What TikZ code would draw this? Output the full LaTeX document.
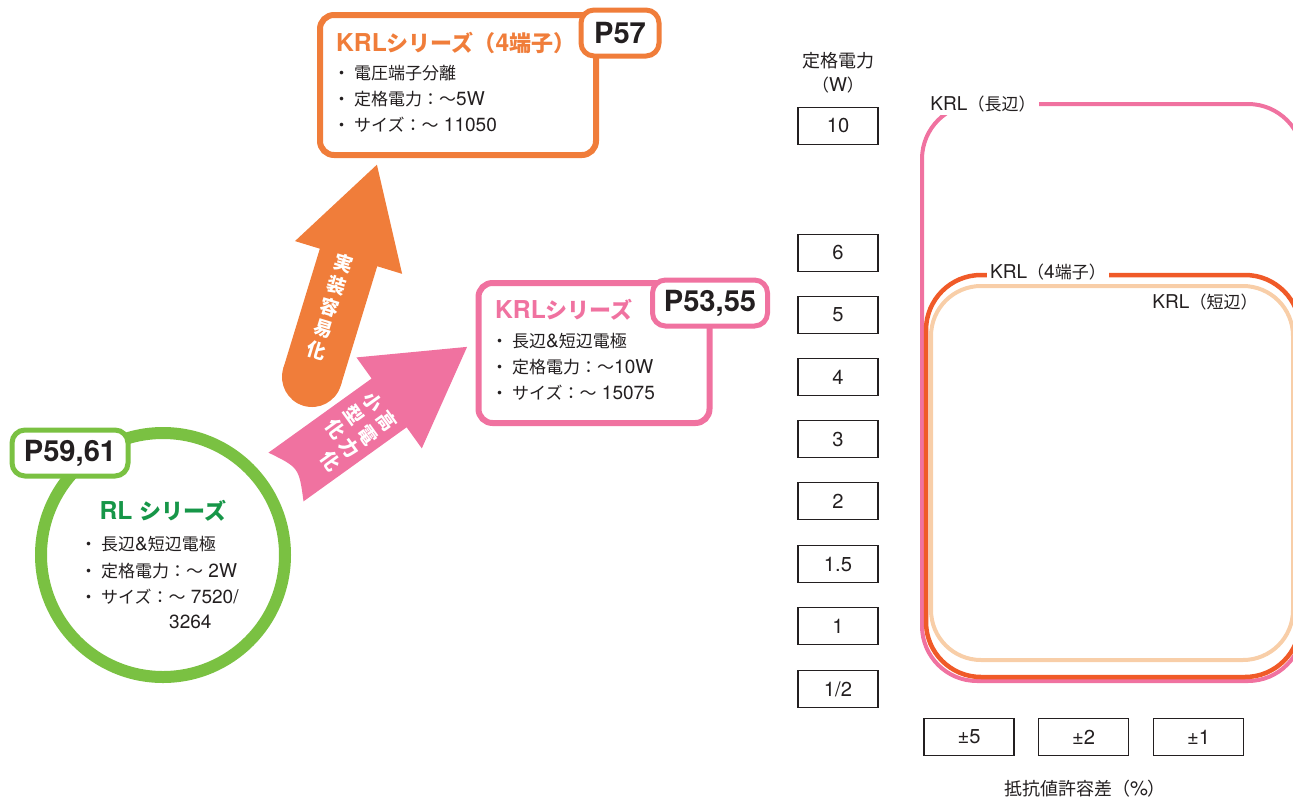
\documentclass[tikz,border=0pt]{standalone}
\usepackage{fontspec}
\setmainfont{TeX Gyre Heros}[Scale=1.12]
\newfontfamily\jp{Noto Sans CJK JP}
\usepackage{tikz}

\definecolor{krlorange}{RGB}{240,125,58}
\definecolor{krlpink}{RGB}{240,114,160}
\definecolor{rlgreen}{RGB}{122,193,66}
\definecolor{rldark}{RGB}{22,150,72}
\definecolor{krlred}{RGB}{240,90,40}
\definecolor{krlbeige}{RGB}{248,206,168}
\definecolor{ink}{RGB}{35,31,32}

\newcommand{\bul}{{\jp ・}\hspace{4pt}}

\begin{document}
\begin{tikzpicture}[x=1pt,y=-1pt,
  every node/.style={text=ink},
  card/.style={draw, line width=6pt, rounded corners=14pt, fill=white},
  tab/.style={draw, line width=5pt, rounded corners=13pt, fill=white, inner sep=0pt,
    font=\fontsize{26}{26}\selectfont\bfseries},
  title/.style={anchor=west, inner sep=0pt, font=\fontsize{22}{22}\selectfont\bfseries},
  item/.style={anchor=west, inner sep=0pt, font=\fontsize{17}{17}\selectfont},
  arrowtext/.style={text=white, inner sep=0pt, align=center, font=\jp\bfseries\fontsize{19}{22.6}\selectfont},
  wbox/.style={draw=ink, line width=1.1pt, minimum width=80, minimum height=37,
    font=\fontsize{18}{18}\selectfont},
  tolbox/.style={wbox, minimum width=90, minimum height=37},
  curvelabel/.style={inner sep=3pt, font=\fontsize{17}{17}\selectfont}]
\useasboundingbox (0,0) rectangle (1293,798);

% Arrow up to the 4-terminal series
\begin{scope}[shift={(312,377)}, rotate=73]
\fill[krlorange] (0,-30) -- (125,-30) -- (125,-56) -- (222,0) -- (125,56) -- (125,30) -- (0,30) -- cycle;
\fill[krlorange] (0,0) circle (30);
\end{scope}
\node[arrowtext, rotate=-17] (easy) at (330,307) {実\\装\\容\\易\\化};

% Arrow across to the KRL series
\begin{scope}[shift={(286,477)}, rotate=35.7]
\fill[krlpink] (0,30) .. controls (16,0) .. (0,-30) -- (127,-30) -- (127,-56) -- (223,0) -- (127,56) -- (127,30) -- cycle;
\end{scope}
\node[arrowtext, rotate=-54.3] (power) at (350,433)
  {\begin{tabular}{@{}c@{\hspace{5pt}}c@{}}小&高\\型&電\\化&力\\&化\end{tabular}};

% KRL series (4 terminals)
\node[card, draw=krlorange, minimum width=276, minimum height=140] (krl4) at (458,85) {};
\node[tab, draw=krlorange, minimum width=78, minimum height=46] (krl4page) at (620,33) {P57};
\node[title, text=krlorange] (krl4title) at (336,43) {KRL{\jp シリーズ（}4{\jp 端子）}};
\node[item] (krl4a) at (333,73) {\bul{\jp 電圧端子分離}};
\node[item] (krl4b) at (333,99) {\bul{\jp 定格電力：～}5W};
\node[item] (krl4c) at (333,125) {\bul{\jp サイズ：～} 11050};

% KRL series
\node[card, draw=krlpink, minimum width=231, minimum height=140] (krl) at (594,353) {};
\node[tab, draw=krlpink, minimum width=115, minimum height=46] (krlpage) at (710,303) {P53,55};
\node[title, text=krlpink] (krltitle) at (495,310) {KRL{\jp シリーズ}};
\node[item] (krla) at (491,341) {\bul{\jp 長辺}\&{\jp 短辺電極}};
\node[item] (krlb) at (491,367) {\bul{\jp 定格電力：～}10W};
\node[item] (krlc) at (491,393) {\bul{\jp サイズ：～} 15075};

% RL series
\node[circle, draw=rlgreen, line width=12pt, fill=white, minimum size=244] (rl) at (163,555) {};
\node[tab, draw=rlgreen, minimum width=116, minimum height=46] (rlpage) at (70,453) {P59,61};
\node[title, anchor=center, text=rldark] (rltitle) at (163,511) {RL {\jp シリーズ}};
\node[item] (rla) at (80,544) {\bul{\jp 長辺}\&{\jp 短辺電極}};
\node[item] (rlb) at (80,571) {\bul{\jp 定格電力：～} 2W};
\node[item] (rlc) at (80,597) {\bul{\jp サイズ：～} 7520/};
\node[item] (rld) at (169,622) {3264};

% Rated power scale
\node[curvelabel, font=\jp\fontsize{18}{18}\selectfont] (watt) at (838,61) {定格電力};
\node[curvelabel] (wattunit) at (838,85) {{\jp （}W{\jp ）}};
\foreach \val/\yy [count=\i] in {10/126, 6/253, 5/315, 4/377, 3/439, 2/501, 1.5/564, 1/626, {1/2}/689}
  \node[wbox] (p\i) at (838,\yy) {\val};

% Tolerance scale
\node[tolbox] (t5) at (969,737) {±5};
\node[tolbox] (t2) at (1083.5,737) {±2};
\node[tolbox] (t1) at (1198.5,737) {±1};
\node[curvelabel, font=\fontsize{18}{18}\selectfont] (tol) at (1085,789) {{\jp 抵抗値許容差（}\%{\jp ）}};

% Ranges of each series
\draw[krlpink, line width=4pt, rounded corners=55] (922,104) rectangle (1303,681);
\draw[krlred, line width=4.5pt, rounded corners=55] (926,275) rectangle (1300,677);
\draw[krlbeige, line width=4pt, rounded corners=50] (931,286) rectangle (1293,660);
\node[curvelabel, fill=white] (longlab) at (983,104) {KRL{\jp （長辺）}};
\node[curvelabel, fill=white] (fourlab) at (1048,272) {KRL{\jp （}4{\jp 端子）}};
\node[curvelabel] (shortlab) at (1205,302) {KRL{\jp （短辺）}};
\end{tikzpicture}
\end{document}
